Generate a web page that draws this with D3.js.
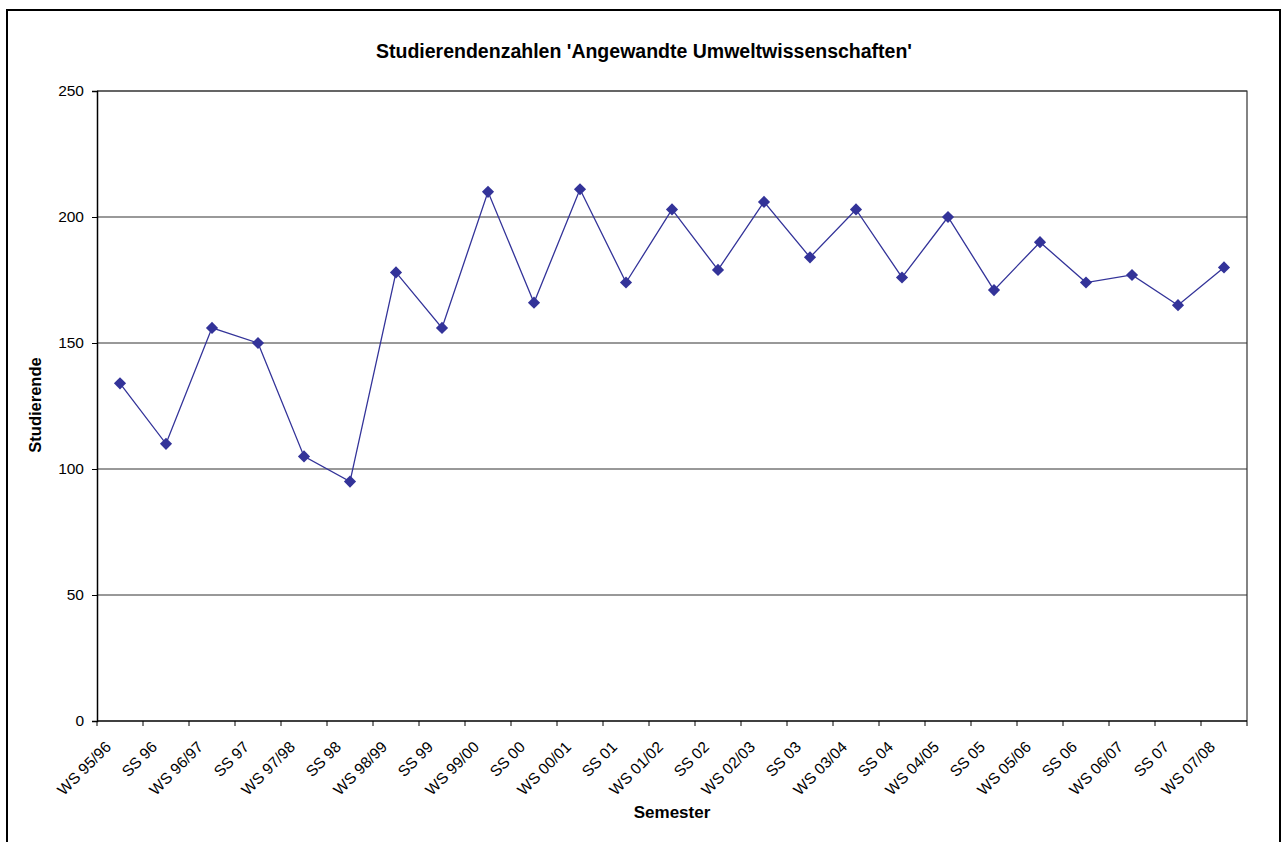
<!DOCTYPE html>
<html>
<head>
<meta charset="utf-8">
<script src="https://cdn.jsdelivr.net/npm/d3@7"></script>
<style>
  html, body { margin: 0; padding: 0; background: #fff; }
  svg { display: block; }
  text { font-family: "Liberation Sans", Arial, sans-serif; fill: #000; }
</style>
</head>
<body>
<svg id="chart" width="1281" height="842"></svg>
<script>
// Student numbers per semester
const semesters = [
  "WS 95/96", "SS 96", "WS 96/97", "SS 97", "WS 97/98", "SS 98", "WS 98/99",
  "SS 99", "WS 99/00", "SS 00", "WS 00/01", "SS 01", "WS 01/02", "SS 02",
  "WS 02/03", "SS 03", "WS 03/04", "SS 04", "WS 04/05", "SS 05", "WS 05/06",
  "SS 06", "WS 06/07", "SS 07", "WS 07/08"
];
const students = [
  134, 110, 156, 150, 105, 95, 178,
  156, 210, 166, 211, 174, 203, 179,
  206, 184, 203, 176, 200, 171, 190,
  174, 177, 165, 180
];
const yTicks = [0, 50, 100, 150, 200, 250];

const titleText = "Studierendenzahlen 'Angewandte Umweltwissenschaften'";
const xTitle = "Semester";
const yTitle = "Studierende";

const svg = d3.select("#chart");
const plot = { left: 97, top: 91, right: 1247, bottom: 721 };

// outer chart frame (bottom edge runs past the canvas)
svg.append("rect")
  .attr("x", 7).attr("y", 10)
  .attr("width", 1273).attr("height", 850)
  .attr("fill", "#fff").attr("stroke", "#000").attr("stroke-width", 2);

const x = d3.scaleBand().domain(semesters).range([plot.left, plot.right]);
const y = d3.scaleLinear().domain([0, 250]).range([plot.bottom, plot.top]);

// horizontal gridlines
svg.append("g")
  .selectAll("line")
  .data(yTicks.filter(d => d > 0))
  .join("line")
  .attr("x1", plot.left).attr("x2", plot.right)
  .attr("y1", d => y(d)).attr("y2", d => y(d))
  .attr("stroke", d => d === 200 ? "#777" : "#333")
  .attr("stroke-width", d => d === 200 ? 1.6 : 1);

// plot area border (top and right)
svg.append("path")
  .attr("d", `M${plot.left},${plot.top}H${plot.right}V${plot.bottom}`)
  .attr("fill", "none").attr("stroke", "#333").attr("stroke-width", 1.2);

// y axis
const yAxis = d3.axisLeft(y).tickValues(yTicks).tickSize(5).tickPadding(8);
const gy = svg.append("g").attr("transform", `translate(${plot.left},0)`).call(yAxis);
gy.select(".domain").attr("stroke", "#000").attr("stroke-width", 1.5);
gy.selectAll(".tick line").attr("stroke", "#000");
gy.selectAll(".tick text")
  .style("font-family", "'Liberation Sans', Arial, sans-serif")
  .style("font-size", "15.5px").attr("fill", "#000");

// x axis: ticks on category boundaries, labels at category centres
const gx = svg.append("g").attr("transform", `translate(0,${plot.bottom})`);
gx.append("line")
  .attr("x1", plot.left).attr("x2", plot.right)
  .attr("stroke", "#000").attr("stroke-width", 1.5);
const boundaries = semesters.map(s => x(s)).concat([plot.right]);
gx.selectAll("line.tick")
  .data(boundaries)
  .join("line")
  .attr("class", "tick")
  .attr("x1", d => d).attr("x2", d => d)
  .attr("y1", 0).attr("y2", 5)
  .attr("stroke", "#000");
gx.selectAll("text")
  .data(semesters)
  .join("text")
  .attr("transform", d => `translate(${x(d) + x.bandwidth() / 2 - 8},27) rotate(-45)`)
  .attr("text-anchor", "end")
  .style("font-size", "15.5px")
  .text(d => d);

// series line
const cx = d => x(d) + x.bandwidth() / 2;
const line = d3.line()
  .x((d, i) => cx(semesters[i]))
  .y(d => y(d));
svg.append("path")
  .datum(students)
  .attr("d", line)
  .attr("fill", "none")
  .attr("stroke", "#333399")
  .attr("stroke-width", 1.3);

// diamond markers
svg.append("g")
  .selectAll("path")
  .data(students)
  .join("path")
  .attr("transform", (d, i) => `translate(${cx(semesters[i])},${y(d)}) rotate(45)`)
  .attr("d", d3.symbol().type(d3.symbolSquare).size(74))
  .attr("fill", "#333399");

// titles
svg.append("text")
  .attr("x", 644).attr("y", 58)
  .attr("text-anchor", "middle")
  .attr("textLength", 536).attr("lengthAdjust", "spacingAndGlyphs")
  .style("font-size", "20px").style("font-weight", "bold")
  .text(titleText);

svg.append("text")
  .attr("x", 672).attr("y", 818)
  .attr("text-anchor", "middle")
  .style("font-size", "17px").style("font-weight", "bold")
  .text(xTitle);

svg.append("text")
  .attr("transform", "translate(41,405) rotate(-90)")
  .attr("text-anchor", "middle")
  .style("font-size", "16.5px").style("font-weight", "bold")
  .text(yTitle);
</script>
</body>
</html>
